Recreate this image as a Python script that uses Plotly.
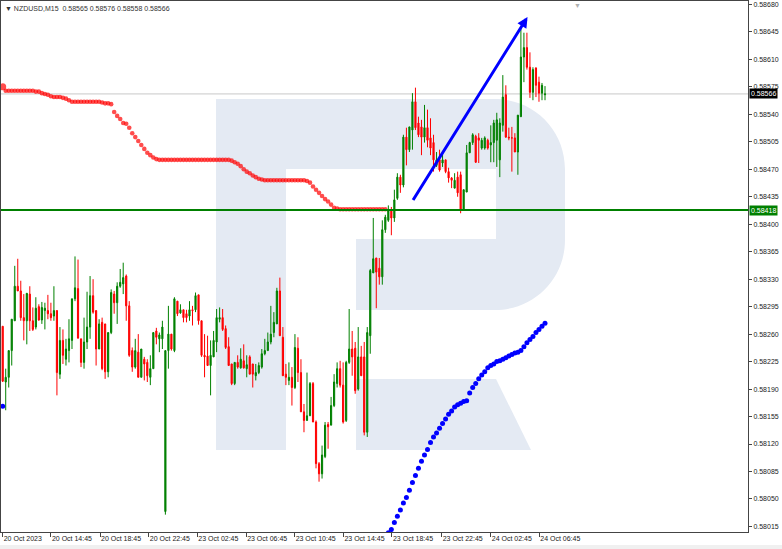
import plotly.graph_objects as go

SYMBOL = "NZDUSD,M15"
TIME_LABELS = ["20 Oct 2023", "20 Oct 14:45", "20 Oct 18:45", "20 Oct 22:45",
               "23 Oct 02:45", "23 Oct 06:45", "23 Oct 10:45", "23 Oct 14:45",
               "23 Oct 18:45", "23 Oct 22:45", "24 Oct 02:45", "24 Oct 06:45"]
# bar index at which each time label sits
TIME_LABEL_BARS = [0, 16, 32.3, 48.5, 64.6, 80.8, 96.9, 113.1, 129.2, 145.7, 162, 178.1]

OHLC = [
    (0.58270, 0.58270, 0.58199, 0.58200), (0.58199, 0.58216, 0.58163, 0.58205),
    (0.58205, 0.58239, 0.58192, 0.58239), (0.58239, 0.58279, 0.58220, 0.58279),
    (0.58277, 0.58347, 0.58277, 0.58321), (0.58321, 0.58356, 0.58315, 0.58315),
    (0.58315, 0.58328, 0.58277, 0.58281), (0.58281, 0.58311, 0.58252, 0.58277),
    (0.58277, 0.58312, 0.58247, 0.58312), (0.58311, 0.58321, 0.58264, 0.58277),
    (0.58277, 0.58294, 0.58264, 0.58266), (0.58269, 0.58307, 0.58266, 0.58293),
    (0.58295, 0.58298, 0.58277, 0.58278), (0.58278, 0.58301, 0.58273, 0.58294),
    (0.58290, 0.58300, 0.58266, 0.58293), (0.58290, 0.58310, 0.58279, 0.58286),
    (0.58286, 0.58300, 0.58277, 0.58281), (0.58283, 0.58321, 0.58277, 0.58290),
    (0.58290, 0.58290, 0.58182, 0.58211), (0.58209, 0.58269, 0.58203, 0.58252),
    (0.58252, 0.58266, 0.58222, 0.58233), (0.58228, 0.58254, 0.58220, 0.58241),
    (0.58239, 0.58279, 0.58224, 0.58254), (0.58252, 0.58305, 0.58241, 0.58305),
    (0.58305, 0.58359, 0.58302, 0.58319), (0.58318, 0.58355, 0.58254, 0.58255),
    (0.58254, 0.58254, 0.58218, 0.58224), (0.58224, 0.58281, 0.58216, 0.58250),
    (0.58250, 0.58314, 0.58241, 0.58269), (0.58269, 0.58334, 0.58254, 0.58309),
    (0.58309, 0.58330, 0.58286, 0.58288), (0.58290, 0.58290, 0.58220, 0.58241),
    (0.58241, 0.58279, 0.58241, 0.58273), (0.58275, 0.58281, 0.58214, 0.58216),
    (0.58273, 0.58273, 0.58203, 0.58212), (0.58212, 0.58262, 0.58205, 0.58262),
    (0.58262, 0.58317, 0.58260, 0.58313), (0.58311, 0.58315, 0.58286, 0.58300),
    (0.58300, 0.58326, 0.58273, 0.58321), (0.58321, 0.58343, 0.58319, 0.58326),
    (0.58324, 0.58351, 0.58311, 0.58332), (0.58334, 0.58336, 0.58277, 0.58296),
    (0.58296, 0.58302, 0.58231, 0.58233), (0.58239, 0.58243, 0.58212, 0.58218),
    (0.58218, 0.58254, 0.58216, 0.58239), (0.58237, 0.58260, 0.58205, 0.58205),
    (0.58205, 0.58241, 0.58205, 0.58241), (0.58228, 0.58231, 0.58201, 0.58222),
    (0.58224, 0.58228, 0.58199, 0.58207), (0.58205, 0.58233, 0.58195, 0.58216),
    (0.58216, 0.58262, 0.58216, 0.58262), (0.58264, 0.58268, 0.58247, 0.58256),
    (0.58254, 0.58262, 0.58237, 0.58259), (0.58254, 0.58277, 0.58241, 0.58269),
    (0.58034, 0.58239, 0.58030, 0.58239), (0.58239, 0.58296, 0.58216, 0.58260),
    (0.58260, 0.58260, 0.58239, 0.58241), (0.58239, 0.58307, 0.58237, 0.58305),
    (0.58302, 0.58302, 0.58283, 0.58286), (0.58287, 0.58298, 0.58286, 0.58291),
    (0.58291, 0.58291, 0.58275, 0.58281), (0.58286, 0.58291, 0.58275, 0.58281),
    (0.58283, 0.58302, 0.58277, 0.58291), (0.58291, 0.58296, 0.58271, 0.58290),
    (0.58291, 0.58313, 0.58288, 0.58309), (0.58310, 0.58310, 0.58272, 0.58277),
    (0.58277, 0.58277, 0.58231, 0.58233), (0.58233, 0.58260, 0.58205, 0.58231),
    (0.58232, 0.58258, 0.58220, 0.58220), (0.58220, 0.58252, 0.58182, 0.58233),
    (0.58231, 0.58264, 0.58231, 0.58252), (0.58250, 0.58292, 0.58237, 0.58281),
    (0.58279, 0.58294, 0.58275, 0.58281), (0.58281, 0.58292, 0.58264, 0.58266),
    (0.58267, 0.58271, 0.58241, 0.58243), (0.58244, 0.58256, 0.58220, 0.58220),
    (0.58222, 0.58222, 0.58195, 0.58197), (0.58197, 0.58224, 0.58195, 0.58224),
    (0.58224, 0.58233, 0.58216, 0.58218), (0.58217, 0.58242, 0.58216, 0.58228),
    (0.58226, 0.58247, 0.58216, 0.58217), (0.58216, 0.58233, 0.58205, 0.58221),
    (0.58231, 0.58233, 0.58209, 0.58209), (0.58222, 0.58222, 0.58192, 0.58209),
    (0.58207, 0.58222, 0.58201, 0.58211), (0.58211, 0.58224, 0.58209, 0.58220),
    (0.58218, 0.58241, 0.58216, 0.58235), (0.58235, 0.58254, 0.58233, 0.58239),
    (0.58239, 0.58262, 0.58239, 0.58250), (0.58250, 0.58296, 0.58247, 0.58260),
    (0.58262, 0.58288, 0.58256, 0.58275), (0.58273, 0.58319, 0.58273, 0.58315),
    (0.58315, 0.58332, 0.58258, 0.58258), (0.58256, 0.58269, 0.58207, 0.58207),
    (0.58209, 0.58222, 0.58195, 0.58205), (0.58201, 0.58224, 0.58195, 0.58205),
    (0.58205, 0.58218, 0.58169, 0.58192), (0.58192, 0.58260, 0.58190, 0.58243),
    (0.58242, 0.58256, 0.58199, 0.58211), (0.58211, 0.58228, 0.58161, 0.58161),
    (0.58161, 0.58171, 0.58135, 0.58150), (0.58150, 0.58211, 0.58150, 0.58156),
    (0.58156, 0.58199, 0.58156, 0.58197), (0.58197, 0.58199, 0.58148, 0.58148),
    (0.58148, 0.58150, 0.58089, 0.58095), (0.58095, 0.58097, 0.58072, 0.58082),
    (0.58082, 0.58118, 0.58076, 0.58106), (0.58104, 0.58148, 0.58102, 0.58144),
    (0.58145, 0.58148, 0.58114, 0.58142), (0.58144, 0.58180, 0.58144, 0.58169),
    (0.58169, 0.58209, 0.58167, 0.58199), (0.58197, 0.58224, 0.58192, 0.58216),
    (0.58216, 0.58226, 0.58192, 0.58195), (0.58195, 0.58224, 0.58146, 0.58148),
    (0.58150, 0.58226, 0.58148, 0.58224), (0.58224, 0.58292, 0.58222, 0.58241),
    (0.58241, 0.58264, 0.58207, 0.58231), (0.58242, 0.58250, 0.58184, 0.58188),
    (0.58190, 0.58269, 0.58188, 0.58231), (0.58231, 0.58245, 0.58207, 0.58207),
    (0.58231, 0.58250, 0.58131, 0.58135), (0.58135, 0.58269, 0.58129, 0.58262),
    (0.58258, 0.58343, 0.58235, 0.58341), (0.58338, 0.58408, 0.58338, 0.58356),
    (0.58357, 0.58357, 0.58293, 0.58339), (0.58344, 0.58357, 0.58323, 0.58333),
    (0.58333, 0.58405, 0.58323, 0.58393), (0.58393, 0.58412, 0.58389, 0.58409),
    (0.58405, 0.58424, 0.58403, 0.58418), (0.58418, 0.58422, 0.58386, 0.58408),
    (0.58408, 0.58444, 0.58403, 0.58431), (0.58433, 0.58465, 0.58431, 0.58460),
    (0.58460, 0.58463, 0.58440, 0.58450), (0.58450, 0.58514, 0.58447, 0.58511),
    (0.58511, 0.58523, 0.58475, 0.58495), (0.58495, 0.58524, 0.58492, 0.58524),
    (0.58520, 0.58567, 0.58495, 0.58556), (0.58556, 0.58574, 0.58520, 0.58523),
    (0.58529, 0.58537, 0.58511, 0.58514), (0.58524, 0.58533, 0.58488, 0.58511),
    (0.58511, 0.58552, 0.58504, 0.58523), (0.58523, 0.58546, 0.58498, 0.58507),
    (0.58510, 0.58535, 0.58488, 0.58497), (0.58504, 0.58514, 0.58467, 0.58482),
    (0.58475, 0.58492, 0.58473, 0.58482), (0.58482, 0.58495, 0.58467, 0.58469),
    (0.58478, 0.58492, 0.58473, 0.58482), (0.58482, 0.58482, 0.58465, 0.58467),
    (0.58467, 0.58472, 0.58453, 0.58459), (0.58459, 0.58460, 0.58446, 0.58456),
    (0.58446, 0.58465, 0.58446, 0.58456), (0.58460, 0.58467, 0.58435, 0.58440),
    (0.58463, 0.58467, 0.58414, 0.58418), (0.58418, 0.58444, 0.58418, 0.58444),
    (0.58441, 0.58501, 0.58441, 0.58491), (0.58491, 0.58505, 0.58491, 0.58504),
    (0.58504, 0.58516, 0.58501, 0.58514), (0.58512, 0.58514, 0.58478, 0.58479),
    (0.58510, 0.58516, 0.58478, 0.58507), (0.58497, 0.58510, 0.58495, 0.58507),
    (0.58497, 0.58512, 0.58495, 0.58510), (0.58507, 0.58509, 0.58495, 0.58497),
    (0.58501, 0.58526, 0.58479, 0.58504), (0.58504, 0.58533, 0.58479, 0.58529),
    (0.58507, 0.58542, 0.58473, 0.58533), (0.58482, 0.58535, 0.58460, 0.58529),
    (0.58526, 0.58590, 0.58518, 0.58562), (0.58565, 0.58577, 0.58510, 0.58511),
    (0.58511, 0.58523, 0.58507, 0.58510), (0.58510, 0.58524, 0.58467, 0.58510),
    (0.58510, 0.58516, 0.58492, 0.58492), (0.58492, 0.58539, 0.58463, 0.58539),
    (0.58537, 0.58651, 0.58537, 0.58613), (0.58613, 0.58644, 0.58581, 0.58625),
    (0.58625, 0.58644, 0.58597, 0.58600), (0.58600, 0.58619, 0.58561, 0.58568),
    (0.58568, 0.58600, 0.58558, 0.58597), (0.58599, 0.58600, 0.58562, 0.58577),
    (0.58581, 0.58588, 0.58556, 0.58567), (0.58567, 0.58580, 0.58558, 0.58577),
    (0.58565, 0.58576, 0.58558, 0.58566),
]
OPEN = [b[0] for b in OHLC]
HIGH = [b[1] for b in OHLC]
LOW = [b[2] for b in OHLC]
CLOSE = [b[3] for b in OHLC]

# red dotted indicator, bars 0..127
RED_DOTS = [
    0.58575,
    0.58570, 0.58570, 0.58570, 0.58570, 0.58570, 0.58570, 0.58570, 0.58570, 0.58570,
    0.58570, 0.58569, 0.58569, 0.58567, 0.58566, 0.58565, 0.58563,
    0.58562, 0.58562, 0.58562, 0.58561, 0.58560, 0.58558,
    0.58556, 0.58556, 0.58556, 0.58556, 0.58556, 0.58556, 0.58556, 0.58556, 0.58556, 0.58556,
    0.58555, 0.58554, 0.58554, 0.58553,
    0.58543, 0.58538, 0.58534, 0.58529, 0.58528, 0.58523, 0.58516, 0.58511,
    0.58506, 0.58501, 0.58496, 0.58491, 0.58488, 0.58485, 0.58483, 0.58482,
    0.58482, 0.58482, 0.58482, 0.58482, 0.58482, 0.58482, 0.58482, 0.58482,
    0.58482, 0.58482, 0.58482, 0.58482, 0.58482, 0.58482, 0.58482, 0.58482,
    0.58482, 0.58482, 0.58482, 0.58482, 0.58482, 0.58482, 0.58482,
    0.58481, 0.58479, 0.58477, 0.58474, 0.58470, 0.58467, 0.58465, 0.58462,
    0.58460, 0.58458, 0.58457,
    0.58456, 0.58456, 0.58456, 0.58456, 0.58456, 0.58456, 0.58456,
    0.58456, 0.58456, 0.58456, 0.58456, 0.58456, 0.58456, 0.58456,
    0.58455, 0.58453, 0.58448, 0.58444, 0.58440, 0.58436, 0.58432, 0.58429,
    0.58425, 0.58421, 0.58420,
    0.58419, 0.58419, 0.58419, 0.58419, 0.58419, 0.58419, 0.58419, 0.58419,
    0.58419, 0.58419, 0.58419, 0.58419, 0.58419, 0.58419, 0.58419, 0.58419,
]
# blue dotted indicator, last bars of the chart
BLUE_DOTS = [
    0.58007, 0.58011, 0.58020, 0.58028, 0.58036, 0.58045, 0.58052, 0.58061, 0.58071, 0.58080,
    0.58089, 0.58098, 0.58106, 0.58113, 0.58122, 0.58129, 0.58134, 0.58140, 0.58146, 0.58152,
    0.58158, 0.58162, 0.58167, 0.58170, 0.58172, 0.58174, 0.58175, 0.58185, 0.58192, 0.58197,
    0.58203, 0.58208, 0.58212, 0.58217, 0.58220, 0.58222, 0.58225, 0.58226, 0.58228, 0.58230,
    0.58232, 0.58234, 0.58236, 0.58237, 0.58239, 0.58244, 0.58249, 0.58253, 0.58257, 0.58262,
    0.58266, 0.58270, 0.58274,
]
BLUE_FIRST_BAR = 0.58168
LEVEL = 0.58418
ARROW_FROM = (135.9, 0.58429)
ARROW_TO = (174.2, 0.58664)

FONT = "Liberation Sans, Arial, sans-serif"
n = len(CLOSE)
bars = list(range(n))

fig = go.Figure()
fig.add_trace(go.Candlestick(
    x=bars, open=OPEN, high=HIGH, low=LOW, close=CLOSE,
    increasing=dict(line=dict(color="#008000", width=1), fillcolor="#008000"),
    decreasing=dict(line=dict(color="#ff0000", width=1), fillcolor="#ff0000"),
    whiskerwidth=0, showlegend=False, hoverinfo="skip"))

red_sizes = [7] + [4.6] * (len(RED_DOTS) - 1)
fig.add_trace(go.Scatter(x=list(range(len(RED_DOTS))), y=RED_DOTS, mode="markers",
                         marker=dict(color="#ff0000", size=red_sizes, line=dict(width=0)),
                         showlegend=False, hoverinfo="skip"))
blue_x = list(range(n - len(BLUE_DOTS), n))
fig.add_trace(go.Scatter(x=[0] + blue_x, y=[BLUE_FIRST_BAR] + BLUE_DOTS, mode="markers",
                         marker=dict(color="#0000ff", size=5, line=dict(width=0)),
                         showlegend=False, hoverinfo="skip"))

# watermark logo (paper coords from pixel positions)
def P(x, y):
    return f"{(x - 1) / 747:.5f},{(532 - y) / 531:.5f}"

WM = "#e4eaf3"
shapes = [
    dict(type="path", xref="paper", yref="paper", layer="below", fillcolor=WM, line=dict(width=0),
         path=f"M{P(216,99)} L{P(286,99)} L{P(286,450)} L{P(216,450)} Z"),
    dict(type="path", xref="paper", yref="paper", layer="below", fillcolor=WM, line=dict(width=0),
         path=(f"M{P(280,99)} L{P(495,99)} C{P(534,99)} {P(565,130)} {P(565,169)} "
               f"L{P(565,240)} C{P(565,279)} {P(534,310)} {P(495,310)} L{P(356,310)} "
               f"L{P(356,239)} L{P(496,239)} L{P(496,169)} L{P(280,169)} Z")),
    dict(type="path", xref="paper", yref="paper", layer="below", fillcolor=WM, line=dict(width=0),
         path=f"M{P(356,379)} L{P(496,379)} L{P(531,450)} L{P(356,450)} Z"),
    dict(type="line", xref="paper", yref="y", x0=0, x1=1, y0=CLOSE[-1], y1=CLOSE[-1],
         layer="below", line=dict(color="#c8c8c8", width=1)),
    dict(type="line", xref="paper", yref="y", x0=0, x1=1, y0=LEVEL, y1=LEVEL,
         line=dict(color="#008000", width=2)),
    dict(type="rect", xref="paper", yref="paper", x0=-0.01, x1=1.06, y0=-17 / 531, y1=-13 / 531,
         fillcolor="#f0f0f0", line=dict(width=0)),
]

header = f"▼ {SYMBOL}  {OPEN[-1]:.5f} {HIGH[-1]:.5f} {LOW[-1]:.5f} {CLOSE[-1]:.5f}"
annotations = [
    dict(xref="paper", yref="paper", x=0.003, y=1, xanchor="left", yanchor="top", yshift=-2,
         text=header, showarrow=False, font=dict(family=FONT, size=7, color="#333333")),
    dict(xref="paper", yref="paper", x=0.772, y=1, xanchor="center", yanchor="top", yshift=1,
         text="▼", showarrow=False, font=dict(family=FONT, size=7, color="#b0b0b0")),
    dict(xref="paper", yref="y", x=1, y=CLOSE[-1], xanchor="left", yanchor="middle", xshift=1,
         text=f"{CLOSE[-1]:.5f}", showarrow=False, bgcolor="#000000", borderpad=1,
         font=dict(family=FONT, size=7, color="#ffffff")),
    dict(xref="paper", yref="y", x=1, y=LEVEL, xanchor="left", yanchor="middle", xshift=1,
         text=f"{LEVEL:.5f}", showarrow=False, bgcolor="#008000", borderpad=1,
         font=dict(family=FONT, size=7, color="#ffffff")),
    dict(x=ARROW_TO[0], y=ARROW_TO[1], ax=ARROW_FROM[0], ay=ARROW_FROM[1],
         xref="x", yref="y", axref="x", ayref="y", text="", showarrow=True,
         arrowhead=2, arrowsize=0.7, arrowwidth=3, arrowcolor="#0000ff"),
]

fig.update_layout(
    width=782, height=549, margin=dict(l=1, r=34, t=1, b=17),
    paper_bgcolor="#ffffff", plot_bgcolor="#ffffff",
    shapes=shapes, annotations=annotations, boxgap=0.45,
    font=dict(family=FONT, size=7, color="#222222"),
    xaxis=dict(range=[-0.564, 247.38], tickvals=TIME_LABEL_BARS, ticktext=TIME_LABELS,
               ticks="outside", ticklen=4, tickcolor="#444444", ticklabelposition="outside right",
               tickangle=0, showline=True, mirror=True, linecolor="#444444", linewidth=1,
               showgrid=False, zeroline=False, rangeslider=dict(visible=False),
               tickfont=dict(family=FONT, size=7, color="#222222")),
    yaxis=dict(side="right", range=[0.580079, 0.586844], tick0=0.58015, dtick=0.00035,
               tickformat=".5f", ticks="outside", ticklen=3, tickcolor="#444444",
               showline=True, mirror=True, linecolor="#444444", linewidth=1,
               showgrid=False, zeroline=False,
               tickfont=dict(family=FONT, size=7, color="#222222")),
)

fig.write_html("out.html", config={"displayModeBar": False},
               post_script="document.body.style.margin='0px';document.body.style.overflow='hidden';")
